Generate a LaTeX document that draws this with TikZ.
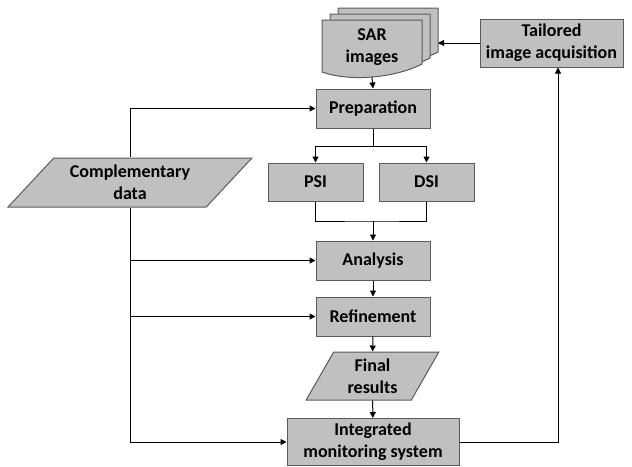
\documentclass[tikz,border=0pt]{standalone}
\usepackage{fontspec}
\setmainfont{Carlito}
\usetikzlibrary{shapes.geometric,arrows.meta}
\definecolor{boxfill}{HTML}{C0C0C0}
\definecolor{boxline}{HTML}{5A5A5A}

\begin{document}
\begin{tikzpicture}[
    x=1pt, y=-1pt,
    every node/.style={font=\bfseries\fontsize{18}{22}\selectfont, align=center, inner sep=0pt},
    proc/.style={rectangle, draw=boxline, fill=boxfill, line width=1pt, minimum height=39pt},
    io/.style={trapezium, trapezium stretches=true, draw=boxline, fill=boxfill, line width=1pt},
    page/.style={draw=boxline, fill=boxfill, line width=1pt},
    flow/.style={-{Triangle[length=6pt,width=6pt]}, line width=1pt}
]
\useasboundingbox (0,0) rectangle (632,466);

\foreach \dx/\dy in {16/-12, 8/-6, 0/0}
    \draw[page, shift={(\dx,\dy)}] (322,20) -- (422,20) -- (422,64)
        .. controls (395,78) and (350,82) .. (322,72) -- cycle;
\node (sar) at (372,47) {SAR\\images};
\coordinate (sarin) at (438,43);
\coordinate (sarout) at (372,77);

\node[proc, minimum width=143pt, minimum height=48pt] (tailor) at (551.5,43) {Tailored\\image acquisition};
\node[proc, minimum width=114pt] (prep) at (373,108.5) {Preparation};
\node[proc, minimum width=95pt, minimum height=38pt] (psi) at (315.5,182) {PSI};
\node[proc, minimum width=95pt, minimum height=38pt] (dsi) at (426.5,182) {DSI};
\node[io, trapezium left angle=44, trapezium right angle=136,
      minimum width=244pt, minimum height=49pt] (comp) at (130,182.5) {Complementary\\data};
\node[proc, minimum width=114pt] (ana) at (373,260.5) {Analysis};
\node[proc, minimum width=114pt] (refine) at (373,316.5) {Refinement};
\node[io, trapezium left angle=63, trapezium right angle=117,
      minimum width=133pt, minimum height=48pt] (final) at (372.5,376) {Final\\results};
\node[proc, minimum width=172pt, minimum height=47pt] (monitor) at (373,442) {Integrated\\monitoring system};

\coordinate (split) at (373,146);
\coordinate (join) at (373,221);

\draw[flow] (sarout) -- (prep.north);
\draw[flow] (tailor.west) -- (sarin);
\draw[line width=1pt] (prep.south) -- (split);
\draw[flow] (split) -| (psi.north);
\draw[flow] (split) -| (dsi.north);
\draw[line width=1pt] (psi.south) |- (join) -| (dsi.south);
\draw[flow] (join) -- (ana.north);
\draw[flow] (ana) -- (refine);
\draw[flow] (refine) -- (final);
\draw[flow] (final) -- (monitor);
\draw[flow] (comp.north) |- (prep.west);
\draw[flow] (comp.south) |- (ana.west);
\draw[flow] (comp.south) |- (refine.west);
\draw[flow] (comp.south) |- (monitor.west);
\draw[flow] (monitor.east) -| ([xshift=6.5pt]tailor.south);

\end{tikzpicture}
\end{document}
